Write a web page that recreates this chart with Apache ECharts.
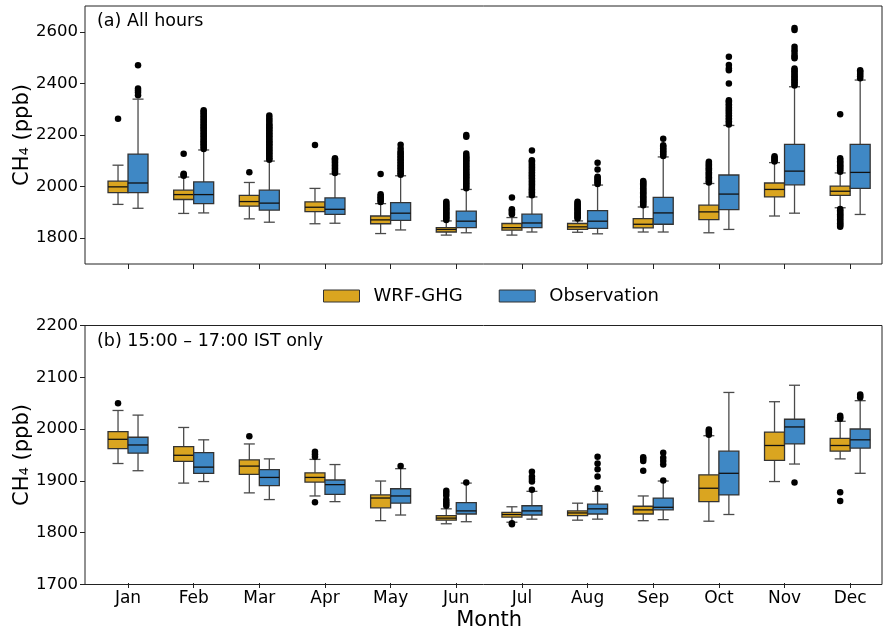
<!DOCTYPE html>
<html>
<head>
<meta charset="utf-8">
<script src="https://cdn.jsdelivr.net/npm/echarts/dist/echarts.min.js"></script>
<style>
    html, body { margin: 0; padding: 0; background: #fff; }
    #chartBox { width: 883px; height: 632px; }
</style>
</head>
<body>
<div id="chartBox"></div>
<script>
const months = ['Jan', 'Feb', 'Mar', 'Apr', 'May', 'Jun', 'Jul', 'Aug', 'Sep', 'Oct', 'Nov', 'Dec'];

// (a) all hours: [lower whisker, Q1, median, Q3, upper whisker]
const wrfAll = [
    [1931, 1977, 1999, 2021, 2083],
    [1896, 1950, 1969, 1986, 2037],
    [1875, 1924, 1942, 1966, 2016],
    [1856, 1903, 1920, 1941, 1993],
    [1818, 1856, 1871, 1886, 1934],
    [1812, 1824, 1834, 1841, 1867],
    [1812, 1831, 1841, 1857, 1880],
    [1823, 1834, 1844, 1857, 1867],
    [1824, 1840, 1854, 1876, 1921],
    [1821, 1872, 1902, 1928, 2012],
    [1886, 1960, 1989, 2014, 2093],
    [1918, 1966, 1982, 2002, 2053]
];
const obsAll = [
    [1916, 1977, 2014, 2126, 2339],
    [1898, 1934, 1969, 2018, 2142],
    [1862, 1909, 1936, 1986, 2099],
    [1858, 1892, 1912, 1956, 2049],
    [1832, 1869, 1897, 1938, 2042],
    [1821, 1841, 1866, 1905, 1989],
    [1824, 1841, 1859, 1893, 1960],
    [1817, 1838, 1866, 1907, 2006],
    [1824, 1854, 1898, 1958, 2115],
    [1834, 1911, 1971, 2045, 2237],
    [1897, 2007, 2060, 2164, 2387],
    [1892, 1993, 2055, 2164, 2413]
];
const wrfAllOut = [
    [2263],
    [2042, 2046, 2050, 2127],
    [2056],
    [2161],
    [1940, 1946, 1952, 1958, 1964, 1970, 2049],
    [1871, 1876, 1881, 1886, 1891, 1896, 1901, 1906, 1911, 1916, 1921, 1926, 1931, 1936, 1941],
    [1893, 1898, 1903, 1908, 1912, 1958],
    [1876, 1881, 1886, 1891, 1896, 1901, 1906, 1911, 1916, 1921, 1926, 1931, 1936, 1941],
    [1928, 1933, 1938, 1943, 1948, 1953, 1958, 1963, 1968, 1973, 1978, 1983, 1988, 1993, 1998, 2003, 2008, 2013, 2018, 2022],
    [2016, 2021, 2026, 2031, 2036, 2041, 2046, 2051, 2056, 2061, 2066, 2071, 2076, 2081, 2086, 2091, 2096],
    [2097, 2102, 2107, 2112, 2118],
    [2058, 2063, 2068, 2073, 2078, 2083, 2088, 2093, 2098, 2104, 2110, 2280,
     1913, 1908, 1903, 1898, 1893, 1888, 1883, 1878, 1873, 1868, 1863, 1858, 1853, 1848, 1844]
];
const obsAllOut = [
    [2354, 2365, 2372, 2380, 2470],
    [2146, 2152, 2158, 2164, 2170, 2176, 2182, 2188, 2194, 2200, 2206, 2212, 2218, 2224, 2230, 2236, 2242, 2248, 2254, 2260, 2266, 2272, 2278, 2284, 2290, 2296],
    [2104, 2110, 2116, 2122, 2128, 2134, 2140, 2146, 2152, 2158, 2164, 2170, 2176, 2182, 2188, 2194, 2200, 2206, 2212, 2218, 2224, 2230, 2236, 2242, 2250, 2258, 2266, 2276],
    [2053, 2058, 2064, 2070, 2076, 2082, 2088, 2094, 2100, 2106, 2110],
    [2046, 2052, 2058, 2064, 2070, 2076, 2082, 2088, 2094, 2100, 2106, 2112, 2118, 2124, 2130, 2136, 2148, 2162],
    [1994, 2000, 2006, 2012, 2018, 2024, 2030, 2036, 2042, 2048, 2054, 2060, 2066, 2072, 2078, 2084, 2090, 2096, 2102, 2108, 2114, 2120, 2128, 2193, 2200],
    [1966, 1972, 1978, 1984, 1990, 1996, 2002, 2008, 2014, 2020, 2026, 2032, 2038, 2044, 2050, 2056, 2062, 2068, 2074, 2080, 2086, 2092, 2098, 2102, 2140],
    [2010, 2016, 2022, 2028, 2034, 2038, 2066, 2092],
    [2119, 2125, 2131, 2137, 2143, 2149, 2155, 2160, 2185],
    [2241, 2247, 2253, 2259, 2265, 2271, 2277, 2283, 2289, 2295, 2301, 2307, 2313, 2319, 2325, 2331, 2335, 2400, 2451, 2458, 2471, 2503],
    [2392, 2398, 2404, 2410, 2416, 2422, 2428, 2434, 2440, 2446, 2452, 2458, 2497, 2503, 2510, 2522, 2530, 2542, 2607, 2615],
    [2420, 2428, 2434, 2440, 2446, 2451]
];

// (b) 15:00 - 17:00 IST only
const wrfPeak = [
    [1932, 1961, 1979, 1994, 2035],
    [1894, 1936, 1948, 1965, 2002],
    [1875, 1911, 1927, 1939, 1970],
    [1869, 1896, 1905, 1914, 1940],
    [1821, 1846, 1865, 1871, 1898],
    [1815, 1822, 1826, 1831, 1844],
    [1818, 1828, 1833, 1837, 1848],
    [1822, 1831, 1836, 1840, 1855],
    [1821, 1834, 1842, 1849, 1869],
    [1820, 1858, 1884, 1910, 1986],
    [1897, 1938, 1967, 1993, 2052],
    [1941, 1956, 1967, 1981, 2014]
];
const obsPeak = [
    [1918, 1952, 1968, 1983, 2026],
    [1897, 1913, 1925, 1953, 1978],
    [1862, 1889, 1905, 1920, 1941],
    [1858, 1872, 1891, 1900, 1930],
    [1832, 1855, 1869, 1883, 1922],
    [1819, 1834, 1840, 1856, 1894],
    [1824, 1832, 1840, 1850, 1878],
    [1824, 1834, 1844, 1853, 1878],
    [1823, 1842, 1847, 1865, 1898],
    [1833, 1871, 1913, 1956, 2070],
    [1931, 1970, 2003, 2018, 2084],
    [1913, 1962, 1978, 1999, 2054]
];
const wrfPeakOut = [
    [2049], [], [1985], [1945, 1950, 1955, 1857], [],
    [1850, 1854, 1858, 1862, 1870, 1875, 1879],
    [1814, 1816], [], [1918, 1937, 1941, 1944],
    [1988, 1992, 1995, 1998], [], [2019, 2022, 2025, 1876, 1859]
];
const obsPeakOut = [
    [], [], [], [], [1927], [1895],
    [1881, 1897, 1902, 1907, 1916],
    [1884, 1907, 1921, 1932, 1945],
    [1899, 1930, 1937, 1943, 1953],
    [], [1895], [2060, 2063, 2066]
];

const yTicksAll = [1800, 2000, 2200, 2400, 2600];
const yTicksPeak = [1700, 1800, 1900, 2000, 2100, 2200];

const wrfColor = '#DAA520';
const obsColor = '#3F88C5';
const font = 'DejaVu Sans';

function boxRows(stats) {
    return stats.map((s, i) => [i].concat(s));
}
function outRows(list) {
    let rows = [];
    list.forEach((vals, i) => {
        vals.forEach(v => rows.push([i, v]));
    });
    return rows;
}

function boxRenderer(offset, fill) {
    return function (params, api) {
        let i = api.value(0);
        let lo = api.coord([i, api.value(1)]);
        let q1 = api.coord([i, api.value(2)]);
        let md = api.coord([i, api.value(3)]);
        let q3 = api.coord([i, api.value(4)]);
        let hi = api.coord([i, api.value(5)]);
        let x = lo[0] + offset;
        let hw = 10, cw = 5.5;
        let wStyle = { stroke: '#4a4a4a', lineWidth: 1.3 };
        return {
            type: 'group',
            children: [
                { type: 'line', shape: { x1: x, y1: hi[1], x2: x, y2: q3[1] }, style: wStyle },
                { type: 'line', shape: { x1: x, y1: q1[1], x2: x, y2: lo[1] }, style: wStyle },
                { type: 'line', shape: { x1: x - cw, y1: hi[1], x2: x + cw, y2: hi[1] }, style: wStyle },
                { type: 'line', shape: { x1: x - cw, y1: lo[1], x2: x + cw, y2: lo[1] }, style: wStyle },
                { type: 'rect', shape: { x: x - hw, y: q3[1], width: 2 * hw, height: q1[1] - q3[1] },
                  style: { fill: fill, stroke: '#333', lineWidth: 1.3 } },
                { type: 'line', shape: { x1: x - hw, y1: md[1], x2: x + hw, y2: md[1] },
                  style: { stroke: '#111', lineWidth: 1.3 } }
            ]
        };
    };
}

function boxSeries(name, stats, axis, offset, fill) {
    return {
        name: name,
        type: 'custom',
        xAxisIndex: axis,
        yAxisIndex: axis,
        renderItem: boxRenderer(offset, fill),
        itemStyle: { color: fill, borderColor: '#333', borderWidth: 1 },
        encode: { x: 0, y: [1, 2, 3, 4, 5] },
        data: boxRows(stats),
        silent: true
    };
}

function outSeries(name, list, axis, offset) {
    return {
        name: name,
        type: 'scatter',
        xAxisIndex: axis,
        yAxisIndex: axis,
        symbolSize: 6.5,
        symbolOffset: [offset, 0],
        itemStyle: { color: '#000', opacity: 1 },
        data: outRows(list),
        silent: true,
        z: 3
    };
}

let myChart = echarts.init(document.getElementById('chartBox'));
let tickLabel = { fontFamily: font, fontSize: 16.5, color: '#000', formatter: v => String(v) };
let nameStyle = { fontFamily: font, fontSize: 21, color: '#000' };

myChart.setOption({
    backgroundColor: '#fff',
    animation: false,
    textStyle: { fontFamily: font },
    title: [
        { text: '(a) All hours', left: 92, top: 7,
          textStyle: { fontFamily: font, fontSize: 17.5, fontWeight: 'normal', color: '#000' } },
        { text: '(b) 15:00 \u2013 17:00 IST only', left: 92, top: 327,
          textStyle: { fontFamily: font, fontSize: 17.5, fontWeight: 'normal', color: '#000' } }
    ],
    legend: {
        left: 318,
        top: 282,
        icon: 'rect',
        itemWidth: 36,
        itemHeight: 12,
        itemGap: 36,
        textStyle: { fontFamily: font, fontSize: 18, color: '#000', padding: [0, 0, 0, 9] },
        data: [
            { name: 'WRF-GHG', itemStyle: { color: wrfColor, borderColor: '#333', borderWidth: 1 } },
            { name: 'Observation', itemStyle: { color: obsColor, borderColor: '#333', borderWidth: 1 } }
        ]
    },
    grid: [
        { left: 85, top: 6, width: 797, height: 258, show: true, borderColor: '#222', borderWidth: 1, backgroundColor: 'transparent' },
        { left: 95.2, top: 6, width: 793, height: 258 },
        { left: 85, top: 325.5, width: 797, height: 259, show: true, borderColor: '#222', borderWidth: 1, backgroundColor: 'transparent' },
        { left: 95.2, top: 325.5, width: 793, height: 259 }
    ],
    xAxis: [
        { gridIndex: 0, type: 'value', min: 0, max: 1, show: false },
        { gridIndex: 1, type: 'category', data: months,
          axisLine: { show: false },
          axisTick: { show: true, alignWithLabel: true, length: 5, lineStyle: { color: '#222' } },
          axisLabel: { show: false } },
        { gridIndex: 2, type: 'value', min: 0, max: 1, show: false },
        { gridIndex: 3, type: 'category', data: months,
          name: 'Month', nameLocation: 'middle', nameGap: 27,
          nameTextStyle: nameStyle,
          axisLine: { show: false },
          axisTick: { show: true, alignWithLabel: true, length: 5, lineStyle: { color: '#222' } },
          axisLabel: { margin: 7, fontFamily: font, fontSize: 17, color: '#000' } }
    ],
    yAxis: [
        { gridIndex: 0, type: 'value', min: 1700, max: 2700,
          name: 'CH\u2084 (ppb)', nameLocation: 'middle', nameGap: 52, nameMoveOverlap: false,
          nameTextStyle: nameStyle,
          axisLine: { show: false },
          splitLine: { show: false },
          axisTick: { show: true, length: 5, customValues: yTicksAll, lineStyle: { color: '#222' } },
          axisLabel: Object.assign({ margin: 7, customValues: yTicksAll }, tickLabel) },
        { gridIndex: 1, type: 'value', min: 1700, max: 2700, show: false, splitLine: { show: false } },
        { gridIndex: 2, type: 'value', min: 1700, max: 2200,
          name: 'CH\u2084 (ppb)', nameLocation: 'middle', nameGap: 52, nameMoveOverlap: false,
          nameTextStyle: nameStyle,
          axisLine: { show: false },
          splitLine: { show: false },
          axisTick: { show: true, length: 5, customValues: yTicksPeak, lineStyle: { color: '#222' } },
          axisLabel: Object.assign({ margin: 7, customValues: yTicksPeak }, tickLabel) },
        { gridIndex: 3, type: 'value', min: 1700, max: 2200, show: false, splitLine: { show: false } }
    ],
    series: [
        boxSeries('WRF-GHG', wrfAll, 1, -10, wrfColor),
        boxSeries('Observation', obsAll, 1, 10, obsColor),
        outSeries('wrf-out-a', wrfAllOut, 1, -10),
        outSeries('obs-out-a', obsAllOut, 1, 10),
        boxSeries('WRF-GHG', wrfPeak, 3, -10, wrfColor),
        boxSeries('Observation', obsPeak, 3, 10, obsColor),
        outSeries('wrf-out-b', wrfPeakOut, 3, -10),
        outSeries('obs-out-b', obsPeakOut, 3, 10)
    ]
});
</script>
</body>
</html>
